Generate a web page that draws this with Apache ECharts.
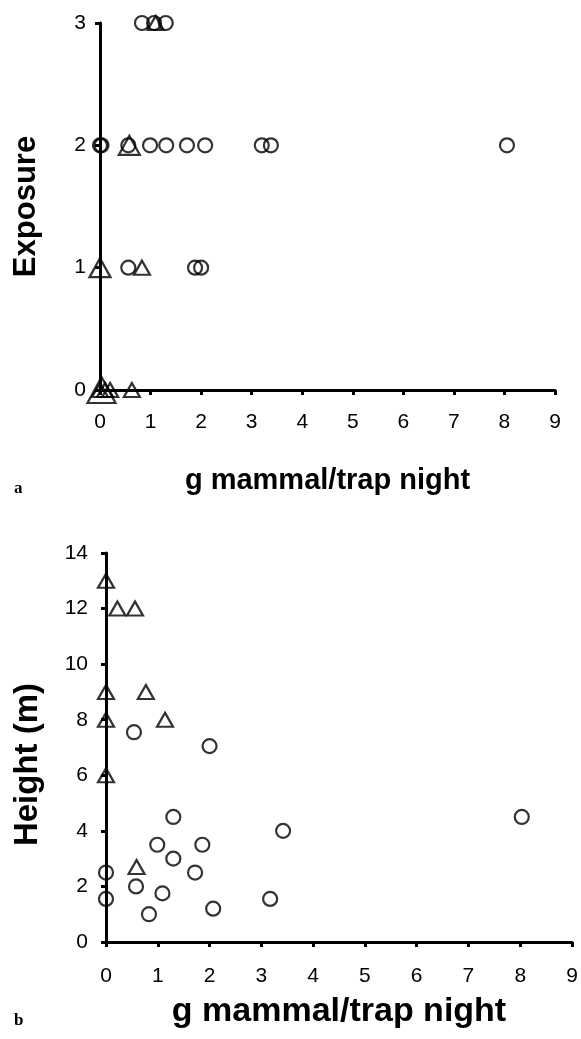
<!DOCTYPE html>
<html>
<head>
<meta charset="utf-8">
<script src="https://cdn.jsdelivr.net/npm/echarts@6/dist/echarts.min.js"></script>
<style>
html,body{margin:0;padding:0;background:#fff;}
#c{width:581px;height:1039px;}
</style>
</head>
<body>
<div id="c"></div>
<script>
// Panel a: Exposure vs g mammal/trap night
const xTicks = [0,1,2,3,4,5,6,7,8,9];
const aYTicks = [0,1,2,3];
const bYTicks = [0,2,4,6,8,10,12,14];

const aCircles = [
  [0,2],[0.03,2],[0.56,2],[0.99,2],[1.31,2],[1.72,2],[2.08,2],[3.2,2],[3.38,2],[8.05,2],
  [0.83,3],[1.07,3],[1.3,3],
  [0.56,1],[1.88,1],[2.0,1]
];
const aTriangles = [
  [1.1,3],[0.83,1],[0,0],[0.1,0],[0.2,0],[0.63,0]
];
const aTrianglesMid = [
  [0.58,2],[0,1]
];
const aTrianglesLarge = [
  [0.03,0]
];

// Panel b: Height (m) vs g mammal/trap night
const bCircles = [
  [0,2.5],[0,1.55],[0.58,2.0],[0.83,1.0],[0.99,3.5],[1.09,1.75],[1.3,4.5],[1.3,3.0],
  [1.72,2.5],[1.86,3.5],[2.07,1.2],[3.17,1.55],[3.42,4.0],[8.03,4.5],[0.54,7.55],[2.0,7.05]
];
const bTriangles = [
  [0,13],[0.22,12],[0.56,12],[0,9],[0.77,9],[0,8],[1.14,8],[0,6],[0.59,2.7]
];

const FONT = '"Liberation Sans", Arial, sans-serif';
const hollow = {color:'rgba(0,0,0,0)', borderColor:'#000', borderWidth:2.2};

function xAxisCfg(gi, margin, nameSize, nameGap){
  return {
    gridIndex: gi, type:'value', min:0, max:9, interval:1,
    name:'g mammal/trap night', nameLocation:'middle', nameGap:nameGap,
    nameTextStyle:{fontFamily:FONT, fontWeight:'bold', fontSize:nameSize, color:'#000'},
    axisLine:{show:true, onZero:false, lineStyle:{color:'#000', width:3}},
    axisTick:{show:true, inside:false, length:5, lineStyle:{color:'#000', width:3}},
    axisLabel:{fontFamily:FONT, fontSize:21, color:'#000', margin:margin,
      formatter:v=> xTicks.includes(v) ? String(v) : ''},
    splitLine:{show:false}
  };
}
function yAxisCfg(gi, max, interval, name, margin, nameSize, nameGap, ticks, namePad){
  return {
    gridIndex: gi, type:'value', min:0, max:max, interval:interval,
    name:name, nameLocation:'middle', nameGap:nameGap, nameRotate:90,
    nameTextStyle:{fontFamily:FONT, fontWeight:'bold', fontSize:nameSize, color:'#000', padding:namePad},
    axisLine:{show:true, onZero:false, lineStyle:{color:'#000', width:3}},
    axisTick:{show:true, inside:false, length:5, lineStyle:{color:'#000', width:3}},
    axisLabel:{fontFamily:FONT, fontSize:21, color:'#000', margin:margin,
      formatter:v=> ticks.includes(v) ? String(v) : ''},
    splitLine:{show:false}
  };
}
function sc(name, gi, data, symbol, size){
  return {
    name:name, type:'scatter', xAxisIndex:gi, yAxisIndex:gi, data:data,
    symbol:symbol, symbolSize:size, itemStyle:hollow, clip:false,
    emphasis:{disabled:true}, silent:true
  };
}

const chart = echarts.init(document.getElementById('c'), null, {renderer:'canvas'});
chart.setOption({
  animation:false,
  backgroundColor:'#fff',
  grid:[
    {left:100, top:23, width:455, height:367},
    {left:106, top:553, width:466, height:389}
  ],
  xAxis:[ xAxisCfg(0, 22, 29, 76), xAxisCfg(1, 24, 34, 53) ],
  yAxis:[
    yAxisCfg(0, 3, 1, 'Exposure', 14, 31, 58, aYTicks, [0,0,0,0]),
    yAxisCfg(1, 14, 2, 'Height (m)', 18, 33, 62, bYTicks, [0,34,0,0])
  ],
  graphic:[
    {type:'text', left:14, top:480, style:{text:'a', fontFamily:'"Liberation Serif", "Times New Roman", serif', fontWeight:'bold', fontSize:17, fill:'#000'}},
    {type:'text', left:14, top:1012, style:{text:'b', fontFamily:'"Liberation Serif", "Times New Roman", serif', fontWeight:'bold', fontSize:17, fill:'#000'}}
  ],
  series:[
    sc('a circles', 0, aCircles, 'circle', 14),
    sc('a triangles', 0, aTriangles, 'triangle', [16,14]),
    sc('a triangles mid', 0, aTrianglesMid, 'triangle', [21,19]),
    sc('a triangles large', 0, aTrianglesLarge, 'triangle', [28,26]),
    sc('b circles', 1, bCircles, 'circle', 14),
    sc('b triangles', 1, bTriangles, 'triangle', [16,14])
  ]
});
</script>
</body>
</html>
